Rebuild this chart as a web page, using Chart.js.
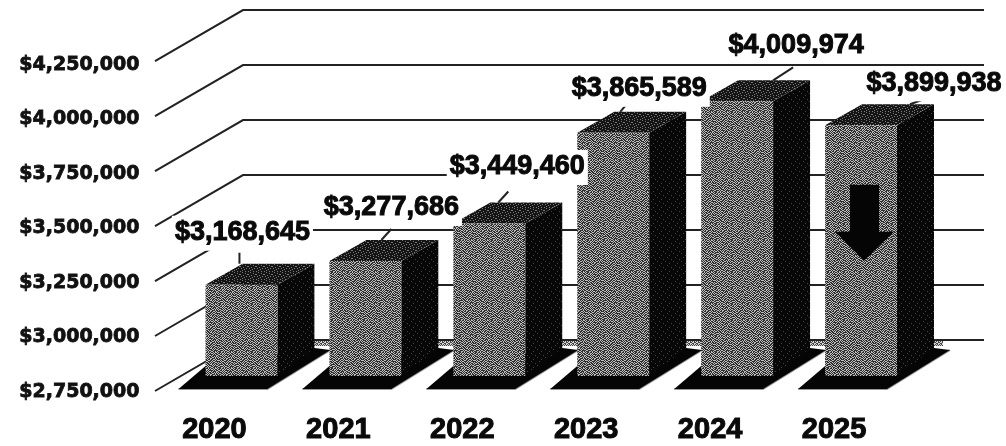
<!DOCTYPE html>
<html>
<head>
<meta charset="utf-8">
<title>Annual totals 2020-2025</title>
<script src="https://cdn.jsdelivr.net/npm/chart.js@4"></script>
<style>
  html, body { margin: 0; padding: 0; background: #fff; }
  canvas { display: block; }
</style>
</head>
<body>
<canvas id="chart" width="1006" height="446"></canvas>
<script>
/* ---------- data ---------- */
const years = ["2020", "2021", "2022", "2023", "2024", "2025"];
const totals = [3168645, 3277686, 3449460, 3865589, 4009974, 3899938];
const tickValues = [2750000, 3000000, 3250000, 3500000, 3750000, 4000000, 4250000];

/* ---------- 3D look ---------- */
const DEPTH_X = 37;
const DEPTH_Y = -21;
const WALL_LEFT = 155;     // where the diagonal wall lines start
const WALL_BACK = 243;     // where they meet the back wall
const WALL_RIGHT = 984;
const WALL_RISE = 51;
const WALL_DROP = 15;      // the wall sits a little below the bar plane
const WALL_STRETCH = 1.009; // and spreads slightly wider than the bars
const TICK_DROP = 16;
const LINE = "#222";
const LABEL_FONT = "bold 27px 'Liberation Sans', Arial, sans-serif";

// value label placement relative to the bar: [dx from bar centre, dy from bar top]
const labelNudge = [[1, -52], [26, -53], [28, -56.5], [26, -44], [59, -56], [73, -42]];
// leader on the top face: dx from bar centre, then its run up to the label
const leaderFrom = [-2, 16, 9, 7, 36, 49];
const leaderRun = [[0, -11], [10, -11], [10, -11], [10, -12], [20, -13], [22, -8]];

function dither(rows, dark, light) {
  const tile = document.createElement("canvas");
  tile.width = rows[0].length;
  tile.height = rows.length;
  const c = tile.getContext("2d");
  rows.forEach((row, y) => {
    [...row].forEach((bit, x) => {
      c.fillStyle = bit === "1" ? light : dark;
      c.fillRect(x, y, 1, 1);
    });
  });
  return c.createPattern(tile, "repeat");
}

const ctx = document.getElementById("chart").getContext("2d");

const frontFill = dither([
  "1010010110100100", "0101101001001011", "1000010100110010", "0110100011001101",
  "1001001010100010", "0100110101011001", "1011000100100110", "0010011010001001",
  "1100100101110100", "0001011000001011", "1010100110100100", "0101001001011010",
  "0011010100100001", "1000101011001110", "0110010000110001", "1001100101000110"
], "#2e2e2e", "#bdbdbd");
const topFill = dither([
  "00100000", "00000100", "10000001", "00010000",
  "01000010", "00001000", "00100000", "10000100"
], "#141414", "#7a7a7a");
const sideFill = dither([
  "00000000", "00010000", "00000000", "00000001",
  "00000000", "01000000", "00000000", "00000100"
], "#070707", "#444444");
const floorFill = dither(["1010", "0101", "1100", "0011"], "#444444", "#d6d6d6");

function money(v) {
  return "$" + v.toLocaleString("en-US");
}

function poly(c, pts, fill) {
  c.beginPath();
  pts.forEach((p, i) => (i ? c.lineTo(p[0], p[1]) : c.moveTo(p[0], p[1])));
  c.closePath();
  c.fillStyle = fill;
  c.fill();
}

// back wall, floor shadows, bar sides and tops go under the bars
const wallPlugin = {
  id: "wall",
  beforeDatasetsDraw(chart) {
    const c = chart.ctx;
    const yScale = chart.scales.y;
    const bars = chart.getDatasetMeta(0).data;
    const yBase = yScale.getPixelForValue(tickValues[0]);
    c.save();

    tickValues.forEach((v) => {
      const yFront = yBase + WALL_DROP - (yBase - yScale.getPixelForValue(v)) * WALL_STRETCH;
      const yBack = yFront - WALL_RISE;
      c.strokeStyle = LINE;
      c.lineWidth = 2;
      c.beginPath();
      c.moveTo(WALL_LEFT, yFront);
      c.lineTo(WALL_BACK, yBack);
      c.lineTo(WALL_RIGHT, yBack);
      c.stroke();
    });

    // grey floor edge along the foot of the wall
    c.fillStyle = floorFill;
    c.fillRect(WALL_BACK, yBase + WALL_DROP - WALL_RISE + 1, 700, 5);

    bars.forEach((bar, i) => {
      const half = bar.width / 2;
      const l = bar.x - half;
      const r = bar.x + half;
      const t = bar.y;
      const b = bar.base;

      // floor shadow, with a soft grey edge
      c.strokeStyle = "#999";
      c.lineWidth = 2;
      c.beginPath();
      c.moveTo(l - 27, b + 13);
      c.lineTo(r - 10, b + 13);
      c.lineTo(r + 53, b - 26);
      c.stroke();
      poly(c, [[l - 27, b + 13], [r - 10, b + 13], [r + 53, b - 26], [r + DEPTH_X, b - 28], [l, b - 10]], "#050505");

      poly(c, [[r, t], [r + DEPTH_X, t + DEPTH_Y], [r + DEPTH_X, b - 28], [r, b]], sideFill);
      poly(c, [[l, t], [l + DEPTH_X, t + DEPTH_Y], [r + DEPTH_X, t + DEPTH_Y], [r, t]], topFill);

      // leader from the top face to its label
      const lx = bar.x + leaderFrom[i];
      const ly = t + DEPTH_Y;
      c.strokeStyle = LINE;
      c.lineWidth = 2;
      c.beginPath();
      c.moveTo(lx, ly);
      c.lineTo(lx + leaderRun[i][0], ly + leaderRun[i][1]);
      c.stroke();
    });
    c.restore();
  },
  afterDatasetsDraw(chart) {
    const c = chart.ctx;
    const bars = chart.getDatasetMeta(0).data;
    c.save();

    // down arrow on the last bar
    const last = bars[bars.length - 1];
    const ax = last.x + 3;
    const ay = last.y + 59.5;
    poly(c, [
      [ax - 14, ay], [ax + 15, ay], [ax + 15, ay + 47], [ax + 30, ay + 47],
      [ax, ay + 76], [ax - 29, ay + 47], [ax - 14, ay + 47]
    ], "#050505");

    // value labels sit on white boxes that blank out whatever is behind them
    c.font = LABEL_FONT;
    c.textAlign = "center";
    c.textBaseline = "middle";
    bars.forEach((bar, i) => {
      const text = money(totals[i]);
      const cx = bar.x + labelNudge[i][0];
      const cy = bar.y + labelNudge[i][1];
      const w = c.measureText(text).width;
      c.fillStyle = "#fff";
      c.fillRect(cx - w / 2 - 3, cy - 17, w + 6, 35);
    });
    c.fillStyle = "#0a0a0a";
    c.strokeStyle = "#0a0a0a";
    c.lineWidth = 1;
    bars.forEach((bar, i) => {
      const text = money(totals[i]);
      const cx = bar.x + labelNudge[i][0];
      const cy = bar.y + labelNudge[i][1];
      c.fillText(text, cx, cy);
      c.strokeText(text, cx, cy);
    });
    c.restore();
  }
};

new Chart(ctx, {
  type: "bar",
  data: {
    labels: years,
    datasets: [{
      data: totals,
      base: tickValues[0],
      backgroundColor: frontFill,
      borderWidth: 0,
      categoryPercentage: 1,
      barPercentage: 0.58
    }]
  },
  options: {
    responsive: false,
    animation: false,
    layout: { padding: { top: 49, right: 83, left: 0, bottom: 0 } },
    plugins: { legend: { display: false }, tooltip: { enabled: false } },
    scales: {
      x: {
        afterFit(scale) { scale.height = 70; },
        grid: { display: false, drawTicks: false },
        border: { display: false },
        ticks: {
          color: "#0a0a0a",
          padding: 37,
          labelOffset: -27,
          maxRotation: 0,
          textStrokeColor: "#0a0a0a",
          textStrokeWidth: 1,
          font: { family: "'Liberation Sans', Arial, sans-serif", size: 29, weight: "bold" }
        }
      },
      y: {
        min: tickValues[0],
        max: tickValues[tickValues.length - 1],
        afterFit(scale) {
          scale.width = 179.5;
          // tick padding would otherwise push the plot top down
          scale.paddingTop = 0;
          scale.paddingBottom = 0;
        },
        afterBuildTicks(scale) { scale.ticks = tickValues.map(value => ({ value })); },
        grid: { display: false, drawTicks: false },
        border: { display: false },
        ticks: {
          color: "#111",
          padding: 40,
          labelOffset: TICK_DROP,
          callback: money,
          textStrokeColor: "#111",
          textStrokeWidth: 0.8,
          font: { family: "'DejaVu Sans', sans-serif", size: 19, weight: "bold" }
        }
      }
    }
  },
  plugins: [wallPlugin]
});
</script>
</body>
</html>
